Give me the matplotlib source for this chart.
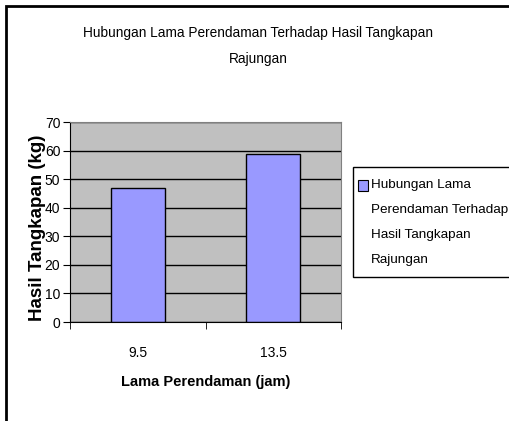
import matplotlib.pyplot as plt
from matplotlib.patches import Rectangle

# Data
categories = ['9.5', '13.5']
catch_kg = [46.8, 58.8]
series_name = 'Hubungan Lama\nPerendaman Terhadap\nHasil Tangkapan\nRajungan'
title_lines = ['Hubungan Lama Perendaman Terhadap Hasil Tangkapan', 'Rajungan']

plt.rcParams['font.family'] = ['Liberation Sans', 'DejaVu Sans']

W, H = 510, 421
fig = plt.figure(figsize=(W / 100, H / 100), dpi=100)

def fx(px):
    return px / W

def fy(py):
    return 1 - py / H

# outer chart border (cut at right/bottom)
fig.patches.append(Rectangle((fx(6), fy(520)), fx(600), 514 / H, transform=fig.transFigure,
                             fill=False, edgecolor='black', linewidth=2))

ax = fig.add_axes([fx(70), fy(322), fx(271), 200 / H])
ax.set_facecolor('#C0C0C0')
ax.set_axisbelow(True)
ax.yaxis.grid(True, color='black', linewidth=1)

xpos = list(range(len(categories)))
ax.bar(xpos, catch_kg, width=0.4, color='#9999FF', edgecolor='black', linewidth=1)

ax.set_xlim(-0.5, len(categories) - 0.5)
ax.set_ylim(0, 70)
ax.set_yticks(range(0, 71, 10))
ax.set_xticks(xpos)
ax.set_xticklabels(categories)
ax.set_xticks([-0.5, 0.5, 1.5], minor=True)
ax.tick_params(axis='x', which='major', length=0, pad=17, labelsize=10)
ax.tick_params(axis='x', which='minor', length=5, direction='out')
ax.tick_params(axis='y', length=5, direction='out', pad=2, labelsize=10)

for s in ['top', 'right']:
    ax.spines[s].set_color('#808080')
for s in ['left', 'bottom']:
    ax.spines[s].set_color('black')

ax.set_ylabel('Hasil Tangkapan (kg)', fontweight='bold', fontsize=13.5)
ax.yaxis.set_label_coords(-0.09, 0.47)
ax.set_xlabel('Lama Perendaman (jam)', fontweight='bold', fontsize=10.5, labelpad=11)

# title
fig.text(fx(258), fy(33), title_lines[0], ha='center', va='center', fontsize=9.8)
fig.text(fx(258), fy(59), title_lines[1], ha='center', va='center', fontsize=9.8)

# legend
fig.patches.append(Rectangle((fx(353), fy(277)), fx(200), 110 / H, transform=fig.transFigure,
                             facecolor='white', edgecolor='black', linewidth=1))
fig.patches.append(Rectangle((fx(358), fy(191)), fx(10), 11 / H, transform=fig.transFigure,
                             facecolor='#9999FF', edgecolor='black', linewidth=0.8))
for i, line in enumerate(series_name.split('\n')):
    fig.text(fx(371), fy(185 + 25 * i), line, ha='left', va='center', fontsize=9.7)

fig.savefig('out.png', dpi=100)
